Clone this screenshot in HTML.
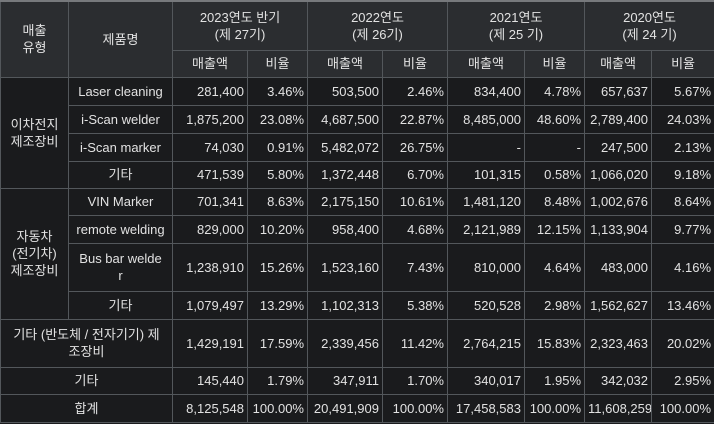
<!DOCTYPE html>
<html><head><meta charset="utf-8"><style>
html,body{margin:0;padding:0;background:#1a1b1d;}
table{border-collapse:collapse;table-layout:fixed;width:714px;font-family:"Liberation Sans","Noto Sans CJK KR",sans-serif;font-size:13px;color:#e2e2e2;}
td,th{border:1px solid #53575b;padding:0 3px;font-weight:normal;overflow:hidden;white-space:nowrap;line-height:17px;}
th{background:#2b2d30;text-align:center;}
td{background:#1a1b1d;text-align:right;}
td.c{text-align:center;white-space:normal;}
table{border-top:2px solid #77797c;}
</style></head><body>
<table>
<colgroup><col style="width:68px"><col style="width:104px"><col style="width:75px"><col style="width:60px"><col style="width:75px"><col style="width:65px"><col style="width:77px"><col style="width:60px"><col style="width:67px"><col style="width:63px"></colgroup>
<tr style="height:49px">
<th rowspan="2">매출<br>유형</th>
<th rowspan="2">제품명</th>
<th colspan="2">2023연도 반기<br>(제 27기)</th>
<th colspan="2">2022연도<br>(제 26기)</th>
<th colspan="2">2021연도<br>(제 25 기)</th>
<th colspan="2">2020연도<br>(제 24 기)</th>
</tr>
<tr style="height:27px">
<th>매출액</th><th>비율</th><th>매출액</th><th>비율</th><th>매출액</th><th>비율</th><th>매출액</th><th>비율</th>
</tr>
<tr style="height:28px"><td class="c" rowspan="4">이차전지<br>제조장비</td><td class="c">Laser cleaning</td><td>281,400</td><td>3.46%</td><td>503,500</td><td>2.46%</td><td>834,400</td><td>4.78%</td><td>657,637</td><td>5.67%</td></tr>
<tr style="height:28px"><td class="c">i-Scan welder</td><td>1,875,200</td><td>23.08%</td><td>4,687,500</td><td>22.87%</td><td>8,485,000</td><td>48.60%</td><td>2,789,400</td><td>24.03%</td></tr>
<tr style="height:28px"><td class="c">i-Scan marker</td><td>74,030</td><td>0.91%</td><td>5,482,072</td><td>26.75%</td><td>-</td><td>-</td><td>247,500</td><td>2.13%</td></tr>
<tr style="height:27px"><td class="c">기타</td><td>471,539</td><td>5.80%</td><td>1,372,448</td><td>6.70%</td><td>101,315</td><td>0.58%</td><td>1,066,020</td><td>9.18%</td></tr>
<tr style="height:27px"><td class="c" rowspan="4">자동차<br>(전기차)<br>제조장비</td><td class="c">VIN Marker</td><td>701,341</td><td>8.63%</td><td>2,175,150</td><td>10.61%</td><td>1,481,120</td><td>8.48%</td><td>1,002,676</td><td>8.64%</td></tr>
<tr style="height:28px"><td class="c">remote welding</td><td>829,000</td><td>10.20%</td><td>958,400</td><td>4.68%</td><td>2,121,989</td><td>12.15%</td><td>1,133,904</td><td>9.77%</td></tr>
<tr style="height:48px"><td class="c">Bus bar welde<br>r</td><td>1,238,910</td><td>15.26%</td><td>1,523,160</td><td>7.43%</td><td>810,000</td><td>4.64%</td><td>483,000</td><td>4.16%</td></tr>
<tr style="height:28px"><td class="c">기타</td><td>1,079,497</td><td>13.29%</td><td>1,102,313</td><td>5.38%</td><td>520,528</td><td>2.98%</td><td>1,562,627</td><td>13.46%</td></tr>
<tr style="height:48px"><td class="c" colspan="2">기타 (반도체 / 전자기기) 제<br>조장비</td><td>1,429,191</td><td>17.59%</td><td>2,339,456</td><td>11.42%</td><td>2,764,215</td><td>15.83%</td><td>2,323,463</td><td>20.02%</td></tr>
<tr style="height:27px"><td class="c" colspan="2">기타</td><td>145,440</td><td>1.79%</td><td>347,911</td><td>1.70%</td><td>340,017</td><td>1.95%</td><td>342,032</td><td>2.95%</td></tr>
<tr style="height:28px"><td class="c" colspan="2">합계</td><td>8,125,548</td><td>100.00%</td><td>20,491,909</td><td>100.00%</td><td>17,458,583</td><td>100.00%</td><td>11,608,259</td><td>100.00%</td></tr>
</table>
</body></html>
